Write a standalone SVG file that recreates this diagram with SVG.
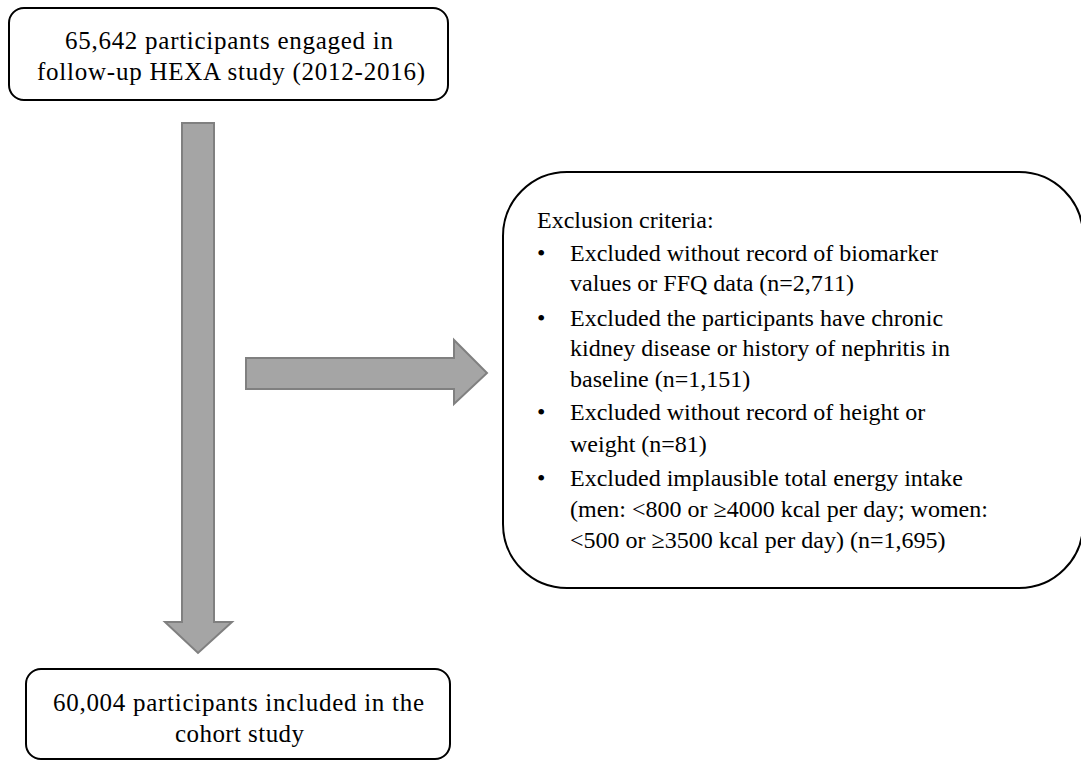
<svg xmlns="http://www.w3.org/2000/svg" width="1081" height="760" viewBox="0 0 1081 760">
<rect width="1081" height="760" fill="#fff"/>
<g id="connectors">
<polygon fill="#a5a5a5" stroke="#808080" stroke-width="2" points="182,123 214,123 214,622 232,622 198,653 165,622 182,622"/>
<polygon fill="#a5a5a5" stroke="#808080" stroke-width="2" points="246,358 454,358 454,340 487,373 454,404 454,389 246,389"/>
</g>
<g id="node-start">
<rect fill="#fff" stroke="#000" stroke-width="2" x="9" y="8" width="439" height="92" rx="15"/>
<text font-family="Liberation Serif" font-size="25" text-anchor="middle" x="229" y="49" textLength="328">65,642 participants engaged in</text>
<text font-family="Liberation Serif" font-size="25" text-anchor="middle" x="231" y="80" textLength="388">follow-up HEXA study (2012-2016)</text>
</g>
<g id="node-exclusion">
<rect fill="#fff" stroke="#000" stroke-width="2" x="503" y="172" width="580" height="416" rx="64"/>
<text font-family="Liberation Serif" font-size="24" x="537" y="228">Exclusion criteria:</text>
<text font-family="Liberation Serif" font-size="24" x="537" y="261">•</text>
<text font-family="Liberation Serif" font-size="24" x="570" y="261">Excluded without record of biomarker</text>
<text font-family="Liberation Serif" font-size="24" x="570" y="291">values or FFQ data (n=2,711)</text>
<text font-family="Liberation Serif" font-size="24" x="537" y="326">•</text>
<text font-family="Liberation Serif" font-size="24" x="570" y="326">Excluded the participants have chronic</text>
<text font-family="Liberation Serif" font-size="24" x="570" y="356">kidney disease or history of nephritis in</text>
<text font-family="Liberation Serif" font-size="24" x="570" y="387">baseline (n=1,151)</text>
<text font-family="Liberation Serif" font-size="24" x="537" y="420">•</text>
<text font-family="Liberation Serif" font-size="24" x="570" y="420">Excluded without record of height or</text>
<text font-family="Liberation Serif" font-size="24" x="570" y="452">weight (n=81)</text>
<text font-family="Liberation Serif" font-size="24" x="537" y="486">•</text>
<text font-family="Liberation Serif" font-size="24" x="570" y="486">Excluded implausible total energy intake</text>
<text font-family="Liberation Serif" font-size="24" x="570" y="517">(men: &lt;800 or ≥4000 kcal per day; women:</text>
<text font-family="Liberation Serif" font-size="24" x="570" y="548">&lt;500 or ≥3500 kcal per day) (n=1,695)</text>
</g>
<g id="node-end">
<rect fill="#fff" stroke="#000" stroke-width="2" x="26" y="669" width="424" height="90" rx="15"/>
<text font-family="Liberation Serif" font-size="25" text-anchor="middle" x="238.5" y="711" textLength="371">60,004 participants included in the</text>
<text font-family="Liberation Serif" font-size="25" text-anchor="middle" x="239.5" y="742" textLength="129">cohort study</text>
</g>
</svg>
